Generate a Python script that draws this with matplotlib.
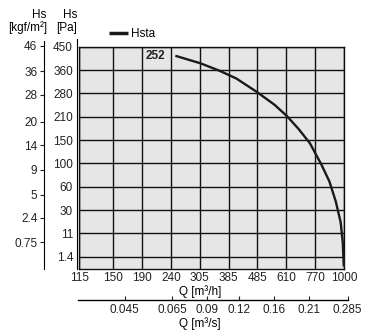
import numpy as np
import matplotlib
matplotlib.use("Agg")
import matplotlib.pyplot as plt
from matplotlib.ticker import NullLocator

plt.rcParams['font.family'] = ['Liberation Sans', 'DejaVu Sans']
plt.rcParams['font.size'] = 8.5

# axis tick values
q_h_ticks = [115, 150, 190, 240, 305, 385, 485, 610, 770, 1000]
q_s_ticks = [0.045, 0.065, 0.09, 0.12, 0.16, 0.21, 0.285]
# where the m3/s ticks sit against the m3/h scale on the drawing
q_s_at_h = [166, 243, 326, 422, 559, 740, 1045]
pa_ticks = [1.4, 11, 30, 60, 100, 150, 210, 280, 360, 450]
kgf_ticks = [46, 36, 28, 20, 14, 9, 5, 2.4, 0.75]

# Hsta curve (Q in m3/h, Hs in Pa)
curve_q = [250, 307, 361, 412, 483, 559, 614, 678, 742, 821, 885, 936, 975, 992, 1000]
curve_pa = [415, 386, 357, 331, 285, 246, 212, 179, 143, 98, 69, 41, 20, 7.1, 0.3]
curve_label = "252"

# the chart spaces its ticks (almost) evenly, so the scale goes tick by tick
x_vals = [90] + q_h_ticks + [1300]
x_idx = [-1.0, 0.0, 1.18, 2.18, 3.18, 4.18, 5.18, 6.18, 7.18, 8.18, 9.18, 10.18]
y_vals = [0] + pa_ticks + [560]
y_idx = [-0.54] + list(range(len(pa_ticks))) + [len(pa_ticks)]

x_fwd = lambda v: np.interp(v, x_vals, x_idx)
x_inv = lambda v: np.interp(v, x_idx, x_vals)
y_fwd = lambda v: np.interp(v, y_vals, y_idx)
y_inv = lambda v: np.interp(v, y_idx, y_vals)

W, H = 371, 333
fig = plt.figure(figsize=(W / 100, H / 100), dpi=100)


def box(l, t, r, b):
    return [l / W, (H - b) / H, (r - l) / W, (b - t) / H]


ax = fig.add_axes(box(79.3, 46.7, 343.8, 269.3))
ax.set_xscale('function', functions=(x_fwd, x_inv))
ax.set_yscale('function', functions=(y_fwd, y_inv))
ax.set_xlim(115, 1000)
ax.set_ylim(0, 450)
ax.set_facecolor('#e6e6e6')
ax.set_xticks(q_h_ticks)
ax.set_xticklabels([str(v) for v in q_h_ticks])
ax.set_yticks(pa_ticks)
ax.set_yticklabels([str(v) for v in pa_ticks])
ax.xaxis.set_minor_locator(NullLocator())
ax.yaxis.set_minor_locator(NullLocator())
ax.tick_params(length=0, pad=4.5, colors='#222222')
ax.tick_params(axis='x', pad=2)
ax.grid(True, color='#111111', lw=1.0)
ax.set_axisbelow(True)
for s in ax.spines.values():
    s.set_color('#111111')
    s.set_linewidth(1.0)
ax.set_xlabel('Q [m³/h]')
ax.xaxis.set_label_coords(200 / W, 1 - 285.5 / H, transform=fig.transFigure)

line, = ax.plot(curve_q, curve_pa, color='#1a1a1a', lw=1.7, label='Hsta',
                solid_capstyle='butt', clip_on=False, zorder=3)
ax.annotate(curve_label, (curve_q[0], curve_pa[0]), xytext=(-7, 0),
            textcoords='offset points', ha='right', va='center',
            fontweight='bold', color='#222222')

fig.legend(handles=[line], loc='center left', frameon=False,
           bbox_to_anchor=(109 / W, (H - 34) / H), handlelength=1.6,
           handletextpad=0.3, borderpad=0, borderaxespad=0)
fig.legends[0].get_lines()[0].set_linewidth(2.5)

# Pa axis line, a little left of the plot frame
ax_p = fig.add_axes(box(77.3, 39, 77.8, 269.3))
ax_p.set_xticks([])
ax_p.set_yticks([])
ax_p.patch.set_visible(False)
for k in ('top', 'bottom', 'right'):
    ax_p.spines[k].set_visible(False)

# second Q axis in m3/s
ax_s = fig.add_axes(box(78, 299.5, 348, 300))
ax_s.set_xscale('function', functions=(x_fwd, x_inv))
ax_s.set_xlim(x_inv(-0.05), x_inv(9.34))
ax_s.set_xticks(q_s_at_h)
ax_s.set_xticklabels([str(v) for v in q_s_ticks])
ax_s.xaxis.set_minor_locator(NullLocator())
ax_s.set_yticks([])
ax_s.patch.set_visible(False)
for k in ('top', 'left', 'right'):
    ax_s.spines[k].set_visible(False)
ax_s.spines['bottom'].set_linewidth(1.0)
ax_s.tick_params(axis='x', direction='in', length=3, pad=3, colors='#222222')
ax_s.set_xlabel('Q [m³/s]')
ax_s.xaxis.set_label_coords(200 / W, 1 - 317.5 / H, transform=fig.transFigure)

# Hs axis in kgf/m2
ax_k = fig.add_axes(box(44.3, 41, 44.8, 269.3))
ax_k.set_yscale('function', functions=(y_fwd, y_inv))
ax_k.set_ylim(0, 473)
ax_k.set_yticks([v * 9.81 for v in kgf_ticks])
ax_k.set_yticklabels([str(v) for v in kgf_ticks])
ax_k.yaxis.set_minor_locator(NullLocator())
ax_k.set_xticks([])
ax_k.patch.set_visible(False)
for k in ('top', 'bottom', 'right'):
    ax_k.spines[k].set_visible(False)
ax_k.tick_params(axis='y', direction='out', length=3, pad=2, colors='#222222')

fig.text(46 / W, 1 - 15 / H, 'Hs', ha='right', va='center')
fig.text(47 / W, 1 - 28 / H, '[kgf/m²]', ha='right', va='center')
fig.text(77 / W, 1 - 15 / H, 'Hs', ha='right', va='center')
fig.text(77 / W, 1 - 28 / H, '[Pa]', ha='right', va='center')

fig.savefig('out.png', dpi=100)
